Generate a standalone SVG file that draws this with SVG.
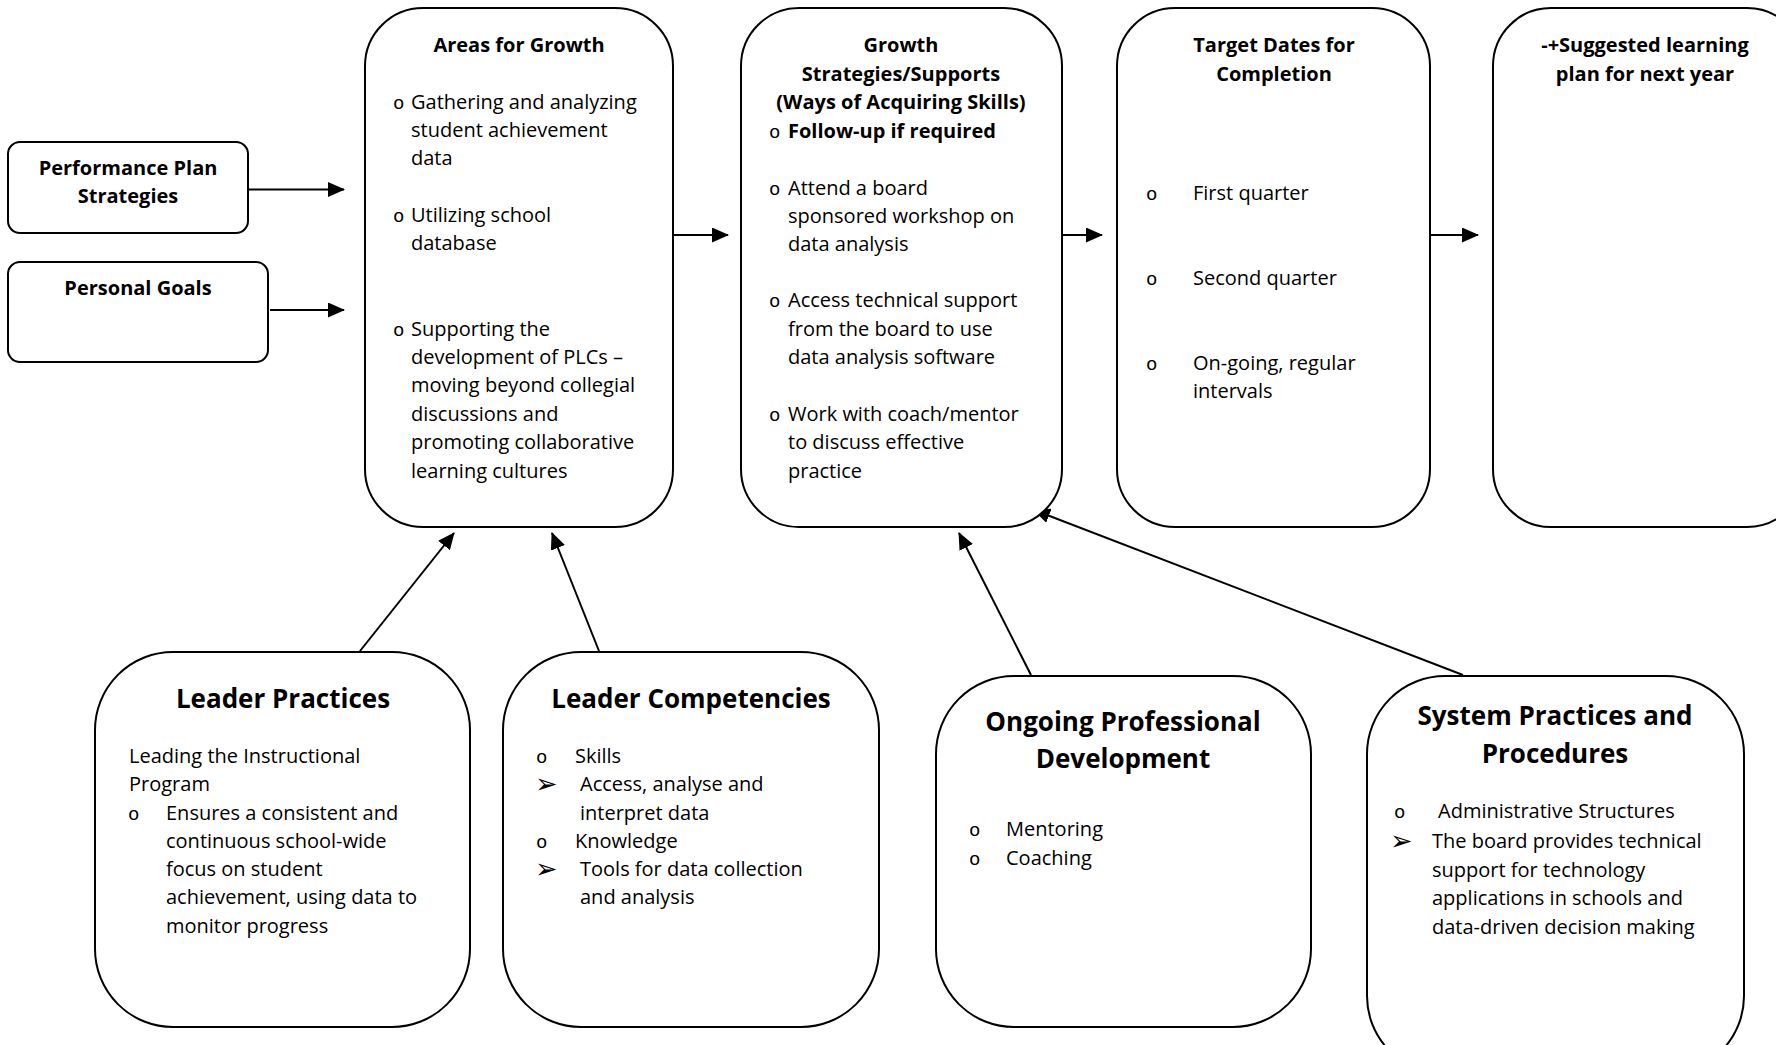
<svg xmlns="http://www.w3.org/2000/svg" width="1776" height="1045" viewBox="0 0 1776 1045">
<defs>
<style>
.box{fill:#fff;stroke:#000;stroke-width:2}
.t{font-family:"Open Sans","Liberation Sans",sans-serif;font-size:20px;fill:#000}
.b{font-family:"Open Sans","Liberation Sans",sans-serif;font-size:20px;font-weight:700;fill:#000}
.h{font-family:"Open Sans","Liberation Sans",sans-serif;font-size:26px;font-weight:700;fill:#000}
.c{text-anchor:middle}
.o{font-family:"Liberation Mono","Courier New",monospace;font-size:19px;fill:#000}
.ar{font-family:"DejaVu Sans",sans-serif;font-size:27px;fill:#000}
.ln{stroke:#000;stroke-width:2;fill:none;marker-end:url(#ah)}
</style>
<marker id="ah" markerUnits="userSpaceOnUse" markerWidth="17" markerHeight="15" viewBox="0 0 17 15" refX="16" refY="7.5" orient="auto">
<path d="M0,0 L17,7.5 L0,15 Z" fill="#000"/>
</marker>
</defs>
<rect x="0" y="0" width="1776" height="1045" fill="#fff"/>

<g id="connectors">
<line class="ln" x1="248" y1="189.5" x2="344" y2="189.5"/>
<line class="ln" x1="270" y1="310" x2="344" y2="310"/>
<line class="ln" x1="673" y1="235" x2="728" y2="235"/>
<line class="ln" x1="1062" y1="235" x2="1102" y2="235"/>
<line class="ln" x1="1431" y1="235" x2="1478" y2="235"/>
<line class="ln" x1="360" y1="651" x2="454" y2="533"/>
<line class="ln" x1="599" y1="651" x2="552" y2="533"/>
<line class="ln" x1="1031" y1="675" x2="959" y2="533"/>
<line class="ln" x1="1463" y1="675" x2="1034" y2="510"/>
</g>

<g id="performance-plan">
<rect class="box" x="8" y="142" width="240" height="91" rx="12"/>
<text class="b c" x="128" y="175">Performance Plan</text>
<text class="b c" x="128" y="203">Strategies</text>
</g>

<g id="personal-goals">
<rect class="box" x="8" y="262" width="260" height="100" rx="12"/>
<text class="b c" x="138" y="295">Personal Goals</text>
</g>

<g id="areas-for-growth">
<rect class="box" x="365" y="8" width="308" height="519" rx="58"/>
<text class="b c" x="519" y="52">Areas for Growth</text>
<text class="o" x="393" y="109">o</text>
<text class="t" x="411" y="109">Gathering and analyzing</text>
<text class="t" x="411" y="137">student achievement</text>
<text class="t" x="411" y="165">data</text>
<text class="o" x="393" y="222">o</text>
<text class="t" x="411" y="222">Utilizing school</text>
<text class="t" x="411" y="250">database</text>
<text class="o" x="393" y="336">o</text>
<text class="t" x="411" y="336">Supporting the</text>
<text class="t" x="411" y="364">development of PLCs –</text>
<text class="t" x="411" y="392">moving beyond collegial</text>
<text class="t" x="411" y="421">discussions and</text>
<text class="t" x="411" y="449">promoting collaborative</text>
<text class="t" x="411" y="478">learning cultures</text>
</g>

<g id="growth-strategies">
<rect class="box" x="741" y="8" width="321" height="519" rx="58"/>
<text class="b c" x="901" y="52">Growth</text>
<text class="b c" x="901" y="81">Strategies/Supports</text>
<text class="b c" x="901" y="109">(Ways of Acquiring Skills)</text>
<text class="o" x="769" y="138">o</text>
<text class="b" x="788" y="138">Follow-up if required</text>
<text class="o" x="769" y="195">o</text>
<text class="t" x="788" y="195">Attend a board</text>
<text class="t" x="788" y="223">sponsored workshop on</text>
<text class="t" x="788" y="251">data analysis</text>
<text class="o" x="769" y="307">o</text>
<text class="t" x="788" y="307">Access technical support</text>
<text class="t" x="788" y="336">from the board to use</text>
<text class="t" x="788" y="364">data analysis software</text>
<text class="o" x="769" y="421">o</text>
<text class="t" x="788" y="421">Work with coach/mentor</text>
<text class="t" x="788" y="449">to discuss effective</text>
<text class="t" x="788" y="478">practice</text>
</g>

<g id="target-dates">
<rect class="box" x="1117" y="8" width="313" height="519" rx="58"/>
<text class="b c" x="1274" y="52">Target Dates for</text>
<text class="b c" x="1274" y="81">Completion</text>
<text class="o" x="1146" y="200">o</text>
<text class="t" x="1193" y="200">First quarter</text>
<text class="o" x="1146" y="285">o</text>
<text class="t" x="1193" y="285">Second quarter</text>
<text class="o" x="1146" y="370">o</text>
<text class="t" x="1193" y="370">On-going, regular</text>
<text class="t" x="1193" y="398">intervals</text>
</g>

<g id="suggested-plan">
<rect class="box" x="1493" y="8" width="312" height="519" rx="58"/>
<text class="b c" x="1645" y="52">-+Suggested learning</text>
<text class="b c" x="1645" y="81">plan for next year</text>
</g>

<g id="leader-practices">
<rect class="box" x="95" y="652" width="375" height="375" rx="78"/>
<text class="h c" x="283" y="708">Leader Practices</text>
<text class="t" x="129" y="763">Leading the Instructional</text>
<text class="t" x="129" y="791">Program</text>
<text class="o" x="128" y="820">o</text>
<text class="t" x="166" y="820">Ensures a consistent and</text>
<text class="t" x="166" y="848">continuous school-wide</text>
<text class="t" x="166" y="876">focus on student</text>
<text class="t" x="166" y="904">achievement, using data to</text>
<text class="t" x="166" y="933">monitor progress</text>
</g>

<g id="leader-competencies">
<rect class="box" x="503" y="652" width="376" height="375" rx="78"/>
<text class="h c" x="691" y="708">Leader Competencies</text>
<text class="o" x="536" y="763">o</text>
<text class="t" x="575" y="763">Skills</text>
<text class="ar" x="535" y="793">➢</text>
<text class="t" x="580" y="791">Access, analyse and</text>
<text class="t" x="580" y="820">interpret data</text>
<text class="o" x="536" y="848">o</text>
<text class="t" x="575" y="848">Knowledge</text>
<text class="ar" x="535" y="878">➢</text>
<text class="t" x="580" y="876">Tools for data collection</text>
<text class="t" x="580" y="904">and analysis</text>
</g>

<g id="ongoing-pd">
<rect class="box" x="936" y="676" width="375" height="351" rx="78"/>
<text class="h c" x="1123" y="731">Ongoing Professional</text>
<text class="h c" x="1123" y="768">Development</text>
<text class="o" x="969" y="836">o</text>
<text class="t" x="1006" y="836">Mentoring</text>
<text class="o" x="969" y="865">o</text>
<text class="t" x="1006" y="865">Coaching</text>
</g>

<g id="system-practices">
<rect class="box" x="1367" y="676" width="377" height="398" rx="78"/>
<text class="h c" x="1555" y="725">System Practices and</text>
<text class="h c" x="1555" y="763">Procedures</text>
<text class="o" x="1394" y="818">o</text>
<text class="t" x="1438" y="818">Administrative Structures</text>
<text class="ar" x="1390" y="850">➢</text>
<text class="t" x="1432" y="848">The board provides technical</text>
<text class="t" x="1432" y="877">support for technology</text>
<text class="t" x="1432" y="905">applications in schools and</text>
<text class="t" x="1432" y="934">data-driven decision making</text>
</g>
</svg>
